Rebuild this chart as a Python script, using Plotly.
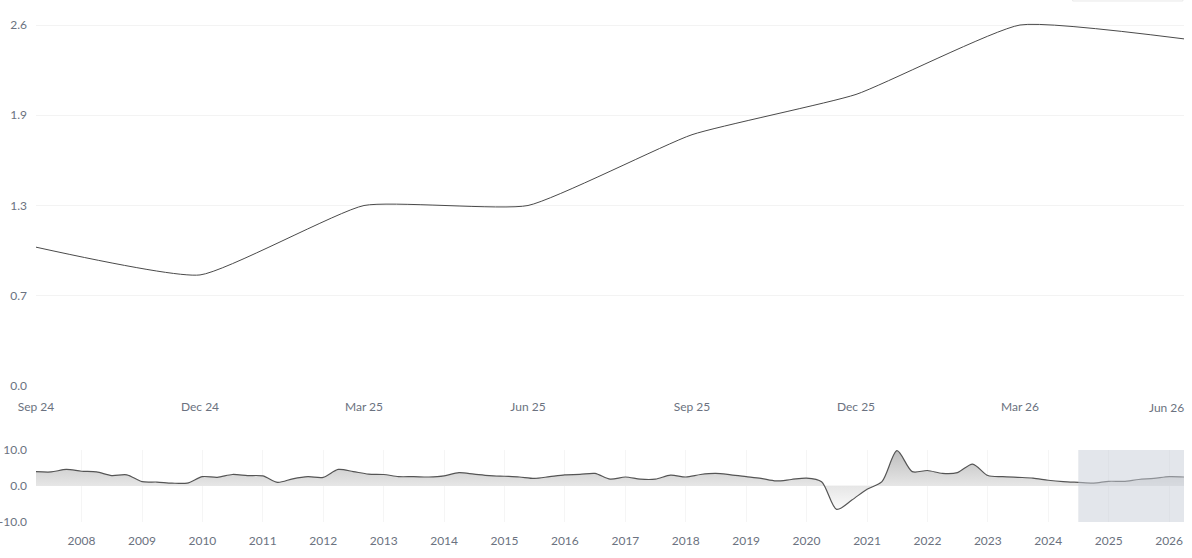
import plotly.graph_objects as go
import pandas as pd

# Main chart (quarterly)
main_labels = ["Sep 24", "Dec 24", "Mar 25", "Jun 25", "Sep 25", "Dec 25", "Mar 26", "Jun 26"]
main_values = [1.0, 0.8, 1.3, 1.3, 1.81, 2.10, 2.6, 2.5]
main_ytickvals = [0.0, 0.65, 1.3, 1.95, 2.6]

# Navigator series (quarterly, Q2 2007 .. Q2 2026)
nav_start = "2007-04-01"
nav_end = "2026-04-01"
nav_values = [
    4.0, 3.9, 4.6,
    4.1, 3.9, 2.9, 3.1,
    1.2, 1.1, 0.8, 0.8,
    2.6, 2.4, 3.2, 2.9,
    2.8, 1.0, 2.0, 2.6,
    2.4, 4.6, 4.0, 3.3,
    3.2, 2.6, 2.6, 2.5,
    2.8, 3.7, 3.3, 2.9,
    2.7, 2.5, 2.1, 2.6,
    3.1, 3.2, 3.5, 1.9,
    2.5, 1.9, 1.9, 3.0,
    2.5, 3.2, 3.5, 3.1,
    2.6, 2.1, 1.4, 1.8,
    2.2, 1.2, -6.5, -3.9,
    -0.9, 1.2, 9.8, 4.0,
    4.3, 3.5, 3.7, 6.1,
    2.9, 2.6, 2.4, 2.2,
    1.6, 1.2, 1.0, 0.8,
    1.3, 1.3, 1.81, 2.10,
    2.6, 2.5,
]
nav_dates = pd.date_range(nav_start, nav_end, freq="QS")
nav_ytickvals = [-10, 0, 10]
nav_yticktext = ["-10.0", "0.0", "10.0"]
sel_start = "2024-07-01"
sel_end = "2026-04-01"

FONT = "Lato"
TICKCOL = "#6b7280"
TF = dict(family=FONT, size=12, color=TICKCOL)

x_idx = list(range(len(main_labels)))
x_ticktext = main_labels[:-1] + [""]

fig = go.Figure()

fig.add_trace(go.Scatter(
    x=x_idx, y=main_values, mode="lines",
    line=dict(color="#4a4a4a", width=1, shape="spline", smoothing=0.45),
    xaxis="x", yaxis="y", showlegend=False,
))

fig.add_trace(go.Scatter(
    x=nav_dates, y=nav_values, mode="lines",
    line=dict(color="#555555", width=1.2, shape="spline", smoothing=0.8),
    fill="tozeroy",
    fillgradient=dict(type="vertical", start=-8, stop=10,
                      colorscale=[[0, "#ffffff"], [0.45, "#e6e6e6"], [1, "#bdbdbd"]]),
    xaxis="x2", yaxis="y2", showlegend=False,
))

fig.update_layout(
    width=1192, height=558,
    margin=dict(l=36, r=8, t=23, b=36, autoexpand=False),
    paper_bgcolor="white", plot_bgcolor="white",
    font=TF,
    xaxis=dict(
        domain=[0, 1], anchor="y", range=[0, 7],
        tickvals=x_idx, ticktext=x_ticktext,
        showgrid=False, zeroline=False, showline=False, ticks="",
        automargin=False, ticklabelstandoff=12, tickfont=TF,
    ),
    yaxis=dict(
        domain=[0.2725, 1], anchor="x", range=[0, 2.6144],
        tickvals=main_ytickvals, tickformat=".1f",
        showgrid=True, gridcolor="#f3f3f3", gridwidth=1,
        zeroline=False, showline=False, ticks="",
        automargin=False, ticklabelstandoff=8, tickfont=TF,
    ),
    xaxis2=dict(
        domain=[0, 1], anchor="y2", type="date",
        range=[nav_start, nav_end], dtick="M12", tick0="2008-01-01",
        tickformat="%Y",
        showgrid=True, gridcolor="#f5f5f5", zeroline=False, showline=False, ticks="",
        automargin=False, ticklabelstandoff=10, tickfont=TF,
    ),
    yaxis2=dict(
        domain=[0, 0.1443], anchor="x2", range=[-10, 10],
        tickvals=nav_ytickvals, ticktext=nav_yticktext,
        showgrid=True, gridcolor="#f5f5f5", zeroline=False, showline=False, ticks="",
        automargin=False, ticklabelstandoff=8, tickfont=TF,
    ),
    annotations=[
        dict(text=main_labels[-1], xref="paper", yref="y", x=1.0016, y=0,
             xanchor="right", yanchor="top", yshift=-12, showarrow=False,
             font=TF),
    ],
    shapes=[
        dict(type="rect", xref="x2", yref="y2 domain",
             x0=sel_start, x1=sel_end, y0=0, y1=1,
             fillcolor="rgba(200,205,215,0.5)", line=dict(width=0), layer="above"),
        dict(type="rect", xref="paper", yref="paper",
             x0=0.903, x1=0.999, y0=1.0441, y1=1.2,
             fillcolor="white", line=dict(color="#e8e8e8", width=1)),
    ],
)

fig.write_html("out.html")
